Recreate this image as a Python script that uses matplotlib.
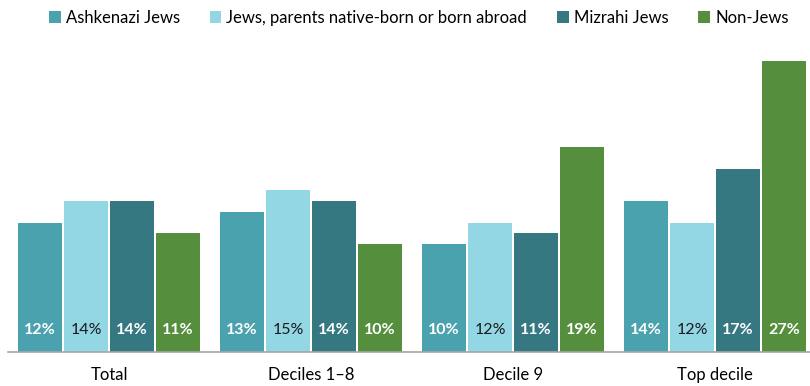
import matplotlib
matplotlib.use("Agg")
import matplotlib.pyplot as plt
import numpy as np

plt.rcParams['font.family'] = ['Lato', 'DejaVu Sans']

# --- DATA ---
groups = ["Total", "Deciles 1\u20138", "Decile 9", "Top decile"]
series_names = ["Ashkenazi Jews", "Jews, parents native-born or born abroad",
                "Mizrahi Jews", "Non-Jews"]
ashkenazi = [12, 13, 10, 14]
mixed = [14, 15, 12, 12]
mizrahi = [14, 14, 11, 17]
non_jews = [11, 10, 19, 27]

# --- STYLE ---
colors = ["#4BA2AF", "#93D6E4", "#367882", "#558F3E"]
text_colors = ["white", "#1a1a1a", "white", "white"]
text_weights = ["bold", "normal", "bold", "bold"]
STEP = 0.228
WIDTH = 0.218

fig = plt.figure(figsize=(8.1, 3.86), dpi=100)
ax = fig.add_axes([8 / 810, 34 / 386, 802 / 810, 312 / 386])

x = np.arange(len(groups))
all_series = [ashkenazi, mixed, mizrahi, non_jews]
for i, (vals, name) in enumerate(zip(all_series, series_names)):
    pos = x + (i - 1.5) * STEP
    ax.bar(pos, vals, width=WIDTH, color=colors[i], label=name)
    for px, v in zip(pos, vals):
        ax.annotate(f"{v}%", (px, 0), xytext=(0, 15.5), textcoords="offset points",
                    ha="center", va="center", fontsize=11.5,
                    color=text_colors[i], fontweight=text_weights[i])

ax.set_xlim(-0.5, 3.47)
ax.set_ylim(0, 28.94)
ax.set_yticks([])
ax.set_xticks(x)
ax.set_xticklabels(groups, fontsize=12)
ax.tick_params(axis="x", length=0, pad=11)
for side in ["top", "right", "left"]:
    ax.spines[side].set_visible(False)
ax.spines["bottom"].set_color("#A6A6A6")
ax.spines["bottom"].set_linewidth(1.2)

fig.legend(loc="center", bbox_to_anchor=(0.517, 1 - 18 / 386), ncol=4,
           frameon=False, fontsize=12, handlelength=0.7, handleheight=0.7,
           handletextpad=0.3, columnspacing=1.8)

fig.savefig("out.png", dpi=100)
